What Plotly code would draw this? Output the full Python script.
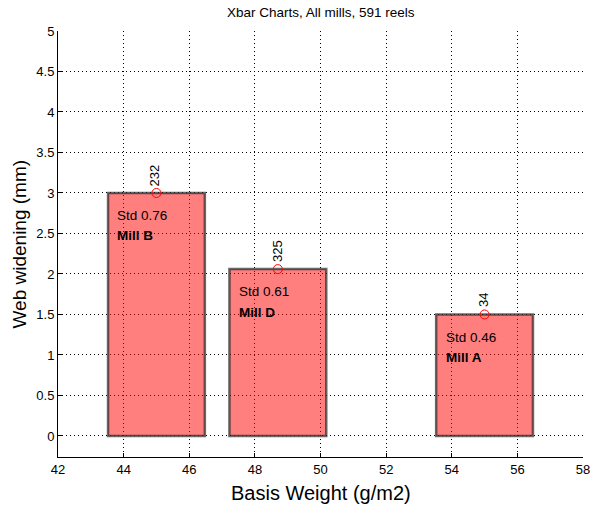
import plotly.graph_objects as go

mills = ["Mill B", "Mill D", "Mill A"]
basis_weight = [45.0, 48.7, 55.0]
web_widening = [3.0, 2.06, 1.5]
std_dev = [0.76, 0.61, 0.46]
reel_counts = [232, 325, 34]
bar_width = 2.95

FONT = "Liberation Sans, Arial, Helvetica, sans-serif"

fig = go.Figure()
fig.add_trace(go.Bar(
    x=basis_weight, y=web_widening, width=bar_width,
    marker=dict(color="rgba(255,0,0,0.5)", line=dict(color="rgba(40,40,40,0.7)", width=2.5)),
    showlegend=False, hoverinfo="skip",
))
fig.add_trace(go.Scatter(
    x=basis_weight, y=web_widening, mode="markers",
    marker=dict(symbol="circle-open", color="red", size=9, line=dict(width=1)),
    showlegend=False, hoverinfo="skip",
))

annotations = []
for xv, yv, s, m, n in zip(basis_weight, web_widening, std_dev, mills, reel_counts):
    annotations.append(dict(x=xv - 1.25, y=yv - 0.28, text=f"Std {s:.2f}", showarrow=False,
                            xanchor="left", yanchor="middle",
                            font=dict(family=FONT, size=13.5, color="black")))
    annotations.append(dict(x=xv - 1.25, y=yv - 0.53, text=f"<b>{m}</b>", showarrow=False,
                            xanchor="left", yanchor="middle",
                            font=dict(family=FONT, size=13.5, color="black")))
    annotations.append(dict(x=xv, y=yv, text=str(n), showarrow=False, textangle=-90,
                            xanchor="center", yanchor="bottom", yshift=5, xshift=-1,
                            font=dict(family=FONT, size=13, color="black")))
annotations.append(dict(x=0.5, y=1, xref="paper", yref="paper", yshift=9,
                        text="Xbar Charts, All mills, 591 reels", showarrow=False,
                        xanchor="center", yanchor="bottom",
                        font=dict(family=FONT, size=13.5, color="black")))
annotations.append(dict(x=0.5, y=0, xref="paper", yref="paper", yshift=-23,
                        text="Basis Weight (g/m2)", showarrow=False,
                        xanchor="center", yanchor="top",
                        font=dict(family=FONT, size=20, color="black")))
annotations.append(dict(x=0, y=0.5, xref="paper", yref="paper", xshift=-27,
                        text="Web widening (mm)", showarrow=False, textangle=-90,
                        xanchor="right", yanchor="middle",
                        font=dict(family=FONT, size=19, color="black")))

DOT = "1px,3px"
fig.update_layout(
    width=591, height=507,
    margin=dict(l=58, r=8, t=31, b=50),
    paper_bgcolor="white", plot_bgcolor="white",
    font=dict(family=FONT, size=13, color="black"),
    annotations=annotations,
    xaxis=dict(range=[42, 58], tickmode="array", tickvals=list(range(42, 59, 2)),
               showgrid=True, gridcolor="black", griddash=DOT, gridwidth=1,
               showline=True, linecolor="black", linewidth=1, mirror=False,
               ticks="inside", ticklen=4, tickcolor="black",
               zeroline=False, automargin=False),
    yaxis=dict(range=[-0.26, 5], tickmode="array",
               tickvals=[0, 0.5, 1, 1.5, 2, 2.5, 3, 3.5, 4, 4.5, 5],
               ticktext=["0", "0.5", "1", "1.5", "2", "2.5", "3", "3.5", "4", "4.5", "5"],
               showgrid=True, gridcolor="black", griddash=DOT, gridwidth=1,
               showline=True, linecolor="black", linewidth=1, mirror=False,
               ticks="inside", ticklen=4, tickcolor="black",
               zeroline=False, automargin=False),
)

fig.write_html("out.html", config={"displayModeBar": False},
               post_script="document.body.style.margin='0';document.body.style.overflow='hidden';")
